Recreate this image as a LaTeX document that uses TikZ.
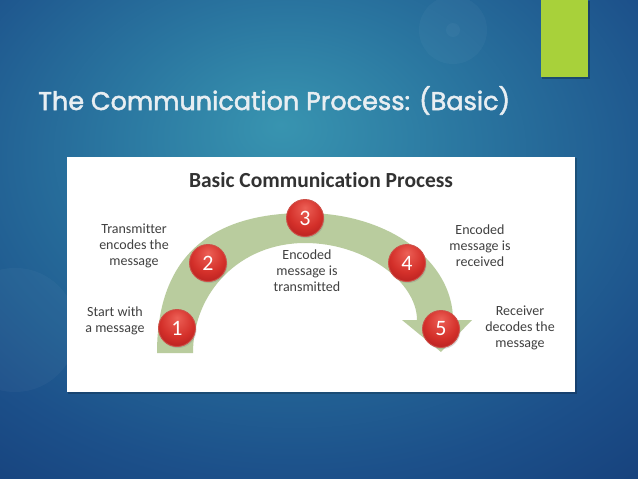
\documentclass[tikz,border=0pt]{standalone}
\usepackage{fontspec}
\usetikzlibrary{shadows}
\newfontfamily\carlito{Carlito}[Ligatures=NoCommon]
\newfontfamily\titlefont{Poppins}[FakeBold=2]
\definecolor{bandgreen}{HTML}{B9CC9E}
\definecolor{limegreen}{HTML}{A8D13A}
\definecolor{labelgray}{HTML}{404040}
\definecolor{titlewhite}{HTML}{E8EEF2}
\pgfdeclareradialshading{bgshade}{\pgfpoint{-3bp}{12bp}}{%
  color(0bp)=(rgb,255:red,56;green,148;blue,176);
  color(14bp)=(rgb,255:red,42;green,118;blue,160);
  color(32bp)=(rgb,255:red,28;green,80;blue,138);
  color(55bp)=(rgb,255:red,15;green,44;blue,104);
  color(80bp)=(rgb,255:red,12;green,36;blue,96)}
\pgfdeclareradialshading{redball}{\pgfpoint{0bp}{14bp}}{%
  color(0bp)=(rgb,255:red,236;green,96;blue,86);
  color(22bp)=(rgb,255:red,212;green,48;blue,42);
  color(44bp)=(rgb,255:red,160;green,20;blue,24);
  color(64bp)=(rgb,255:red,150;green,18;blue,22)}
\tikzset{
  numball/.style={circle, minimum size=37pt, inner sep=0pt, shading=redball,
    draw={rgb,255:red,205;green,80;blue,72}, line width=0.9pt,
    text=white, font=\carlito\fontsize{22}{22}\selectfont,
    drop shadow={opacity=0.3, shadow xshift=1pt, shadow yshift=-1.5pt}},
  steplabel/.style={align=center, text=labelgray, inner sep=0pt,
    font=\carlito\fontsize{14}{16}\selectfont},
  bokeh/.style={fill=white, fill opacity=0.03}
}
\begin{document}
\begin{tikzpicture}[x=1pt,y=-1pt]
\useasboundingbox (0,0) rectangle (638,479);
% background
\shade[shading=bgshade] (0,0) rectangle (638,479);
\fill[bokeh] (453,30) circle (34);
\fill[bokeh] (453,30) circle (7);
\fill[bokeh] (15,330) circle (62);
% lime bar
\fill[black, opacity=0.25] (542,1) rectangle (590,79);
\fill[limegreen] (541,0) rectangle (588,77);
% title
\node[anchor=base west, inner sep=0pt, text=titlewhite,
  font=\titlefont\fontsize{25.5}{25.5}\selectfont] (title) at (38,110)
  {The Communication Process: (Basic)};
% panel
\fill[black, opacity=0.2] (68,158) rectangle (577,394);
\fill[white] (67,157) rectangle (575,392);
\node[text={rgb,255:red,50;green,50;blue,50}, inner sep=0pt,
  font=\carlito\bfseries\fontsize{21.5}{21.5}\selectfont] (heading) at (321,180)
  {Basic Communication Process};
% curved band arrow
\fill[bandgreen]
  (157,353) .. controls (157,262) and (205,213) .. (305,213)
  .. controls (390,213) and (453,262) .. (453,320)
  -- (472,320) -- (441,352) -- (402,320) -- (417,320)
  .. controls (417,282) and (365,243) .. (305,243)
  .. controls (240,243) and (193,292) .. (193,353) -- cycle;
% numbered balls
\node[numball] (n1) at (177,328) {1};
\node[numball] (n2) at (208,263) {2};
\node[numball] (n3) at (305,218) {3};
\node[numball] (n4) at (407,263) {4};
\node[numball] (n5) at (441,329) {5};
% labels
\node[steplabel] (l2) at (134,246) {Transmitter\\encodes the\\message};
\node[steplabel] (l1) at (115,321) {Start with\\a message};
\node[steplabel] (l3) at (307,271) {Encoded\\message is\\transmitted};
\node[steplabel] (l4) at (480,246) {Encoded\\message is\\received};
\node[steplabel] (l5) at (520,328) {Receiver\\decodes the\\message};
\end{tikzpicture}
\end{document}
